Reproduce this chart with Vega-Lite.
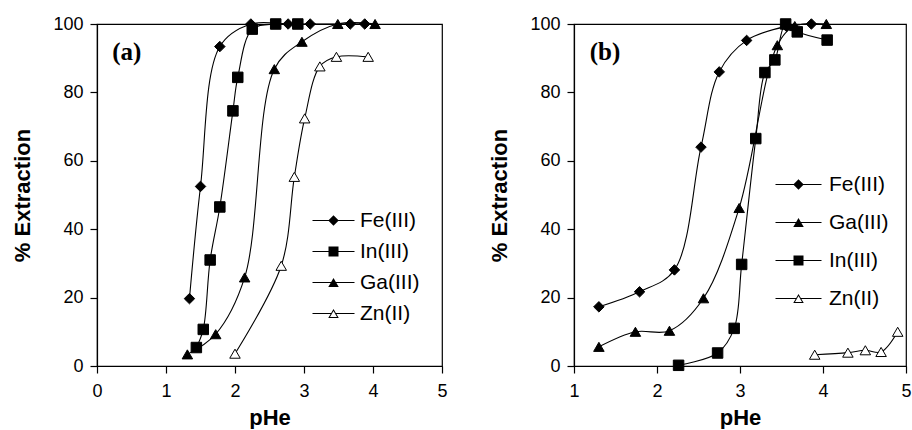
{
  "$schema": "https://vega.github.io/schema/vega-lite/v6.json",
  "usermeta": {"embedOptions": {"actions": false}},
  "padding": {"left": 11, "top": 14, "right": 0, "bottom": 0},
  "datasets": {
    "a": [
      {"series": "Fe(III)", "pHe": 1.34, "ext": 19.7},
      {"series": "Fe(III)", "pHe": 1.50, "ext": 52.5},
      {"series": "Fe(III)", "pHe": 1.78, "ext": 93.4},
      {"series": "Fe(III)", "pHe": 2.23, "ext": 100},
      {"series": "Fe(III)", "pHe": 2.77, "ext": 100},
      {"series": "Fe(III)", "pHe": 3.09, "ext": 100},
      {"series": "Fe(III)", "pHe": 3.67, "ext": 100},
      {"series": "Fe(III)", "pHe": 3.88, "ext": 100},
      {"series": "In(III)", "pHe": 1.44, "ext": 5.4},
      {"series": "In(III)", "pHe": 1.54, "ext": 10.7},
      {"series": "In(III)", "pHe": 1.64, "ext": 31},
      {"series": "In(III)", "pHe": 1.78, "ext": 46.5},
      {"series": "In(III)", "pHe": 1.97, "ext": 74.6},
      {"series": "In(III)", "pHe": 2.04, "ext": 84.4},
      {"series": "In(III)", "pHe": 2.25, "ext": 98.5},
      {"series": "In(III)", "pHe": 2.59, "ext": 100},
      {"series": "In(III)", "pHe": 2.91, "ext": 100},
      {"series": "Ga(III)", "pHe": 1.31, "ext": 3.4},
      {"series": "Ga(III)", "pHe": 1.72, "ext": 9.3},
      {"series": "Ga(III)", "pHe": 2.14, "ext": 25.9},
      {"series": "Ga(III)", "pHe": 2.57, "ext": 86.8},
      {"series": "Ga(III)", "pHe": 2.97, "ext": 94.8},
      {"series": "Ga(III)", "pHe": 3.49, "ext": 100},
      {"series": "Ga(III)", "pHe": 4.03, "ext": 100},
      {"series": "Zn(II)", "pHe": 2.00, "ext": 3.6},
      {"series": "Zn(II)", "pHe": 2.67, "ext": 29.3},
      {"series": "Zn(II)", "pHe": 2.86, "ext": 55.3},
      {"series": "Zn(II)", "pHe": 3.01, "ext": 72.4},
      {"series": "Zn(II)", "pHe": 3.23, "ext": 87.6},
      {"series": "Zn(II)", "pHe": 3.47, "ext": 90.4},
      {"series": "Zn(II)", "pHe": 3.93, "ext": 90.4}
    ],
    "b": [
      {"series": "Fe(III)", "pHe": 1.30, "ext": 17.3},
      {"series": "Fe(III)", "pHe": 1.79, "ext": 21.7},
      {"series": "Fe(III)", "pHe": 2.21, "ext": 28.1},
      {"series": "Fe(III)", "pHe": 2.53, "ext": 64.0},
      {"series": "Fe(III)", "pHe": 2.75, "ext": 86.0},
      {"series": "Fe(III)", "pHe": 3.08, "ext": 95.2},
      {"series": "Fe(III)", "pHe": 3.56, "ext": 99.3},
      {"series": "Fe(III)", "pHe": 3.86, "ext": 100},
      {"series": "Ga(III)", "pHe": 1.30, "ext": 5.6},
      {"series": "Ga(III)", "pHe": 1.74, "ext": 10},
      {"series": "Ga(III)", "pHe": 2.15, "ext": 10.3},
      {"series": "Ga(III)", "pHe": 2.56, "ext": 19.8},
      {"series": "Ga(III)", "pHe": 2.99, "ext": 46.2},
      {"series": "Ga(III)", "pHe": 3.45, "ext": 93.8},
      {"series": "Ga(III)", "pHe": 3.66, "ext": 99.4},
      {"series": "Ga(III)", "pHe": 4.04, "ext": 100},
      {"series": "In(III)", "pHe": 2.26, "ext": 0.2},
      {"series": "In(III)", "pHe": 2.73, "ext": 3.8},
      {"series": "In(III)", "pHe": 2.93, "ext": 11},
      {"series": "In(III)", "pHe": 3.02, "ext": 29.7},
      {"series": "In(III)", "pHe": 3.19, "ext": 66.5},
      {"series": "In(III)", "pHe": 3.30, "ext": 85.8},
      {"series": "In(III)", "pHe": 3.42, "ext": 89.5},
      {"series": "In(III)", "pHe": 3.55, "ext": 100},
      {"series": "In(III)", "pHe": 3.69, "ext": 97.7},
      {"series": "In(III)", "pHe": 4.05, "ext": 95.3},
      {"series": "Zn(II)", "pHe": 3.90, "ext": 3.3},
      {"series": "Zn(II)", "pHe": 4.30, "ext": 3.9},
      {"series": "Zn(II)", "pHe": 4.51, "ext": 4.6},
      {"series": "Zn(II)", "pHe": 4.70, "ext": 4.1},
      {"series": "Zn(II)", "pHe": 4.90, "ext": 10}
    ]
  },
  "spacing": 40,
  "hconcat": [
    {
      "width": 345,
      "height": 342,
      "data": {"name": "a"},
      "encoding": {
        "x": {"field": "pHe", "type": "quantitative", "title": "pHe",
              "scale": {"domain": [0, 5], "nice": false},
              "axis": {"values": [0, 1, 2, 3, 4, 5], "format": "d"}},
        "y": {"field": "ext", "type": "quantitative", "title": "% Extraction",
              "scale": {"domain": [0, 100], "nice": false},
              "axis": {"values": [0, 20, 40, 60, 80, 100]}}
      },
      "layer": [
        {
          "mark": {"type": "line", "color": "black", "strokeWidth": 1.1, "interpolate": "catmull-rom"},
          "encoding": {"detail": {"field": "series"}}
        },
        {
          "mark": {"type": "point", "filled": true, "size": 110, "stroke": "black", "strokeWidth": 1, "opacity": 1},
          "encoding": {
            "shape": {
              "condition": [
                {"test": "datum.series === 'Fe(III)'", "value": "diamond"},
                {"test": "datum.series === 'In(III)'", "value": "square"}
              ],
              "value": "triangle-up"
            },
            "fill": {
              "condition": {"test": "datum.series === 'Zn(II)'", "value": "white"},
              "value": "black"
            }
          }
        },
        {
          "transform": [{"filter": "false"}],
          "mark": {"type": "point", "filled": true, "color": "black", "opacity": 1},
          "encoding": {
            "shape": {"field": "series", "title": null,
                      "scale": {"domain": ["Fe(III)", "In(III)", "Ga(III)", "Zn(II)"],
                                "range": [
                                  "M-4.2,-0.11H4.2V0.11H-4.2ZM-1.05,0L0,-1.05L1.05,0L0,1.05Z",
                                  "M-4.2,-0.11H4.2V0.11H-4.2ZM-1,-1H1V1H-1Z",
                                  "M-4.2,-0.11H4.2V0.11H-4.2ZM0,-0.91L1.05,0.91L-1.05,0.91Z",
                                  "M-4.2,-0.11H-0.5V0.11H-4.2ZM0.5,-0.11H4.2V0.11H0.5ZM0,-0.91L1.05,0.91L-1.05,0.91ZM0,-0.51L-0.7,0.71L0.7,0.71Z"
                                ]},
                      "legend": {
                        "orient": "none", "legendX": 226, "legendY": 186,
                        "labelOffset": 16, "rowPadding": 9
                      }}
          }
        },
        {
          "data": {"values": [{"panel": "(a)", "px": 0.22, "py": 91.8}]},
          "mark": {"type": "text", "font": "Liberation Serif", "fontWeight": "bold", "fontSize": 25, "align": "left", "baseline": "middle", "color": "black"},
          "encoding": {
            "x": {"field": "px", "type": "quantitative"},
            "y": {"field": "py", "type": "quantitative"},
            "text": {"field": "panel"}
          }
        }
      ]
    },
    {
      "width": 332,
      "height": 342,
      "data": {"name": "b"},
      "encoding": {
        "x": {"field": "pHe", "type": "quantitative", "title": "pHe",
              "scale": {"domain": [1, 5], "nice": false},
              "axis": {"values": [1, 2, 3, 4, 5], "format": "d"}},
        "y": {"field": "ext", "type": "quantitative", "title": "% Extraction",
              "scale": {"domain": [0, 100], "nice": false},
              "axis": {"values": [0, 20, 40, 60, 80, 100]}}
      },
      "layer": [
        {
          "mark": {"type": "line", "color": "black", "strokeWidth": 1.1, "interpolate": "catmull-rom"},
          "encoding": {"detail": {"field": "series"}}
        },
        {
          "mark": {"type": "point", "filled": true, "size": 110, "stroke": "black", "strokeWidth": 1, "opacity": 1},
          "encoding": {
            "shape": {
              "condition": [
                {"test": "datum.series === 'Fe(III)'", "value": "diamond"},
                {"test": "datum.series === 'In(III)'", "value": "square"}
              ],
              "value": "triangle-up"
            },
            "fill": {
              "condition": {"test": "datum.series === 'Zn(II)'", "value": "white"},
              "value": "black"
            }
          }
        },
        {
          "transform": [{"filter": "false"}],
          "mark": {"type": "point", "filled": true, "color": "black", "opacity": 1},
          "encoding": {
            "shape": {"field": "series", "title": null,
                      "scale": {"domain": ["Fe(III)", "Ga(III)", "In(III)", "Zn(II)"],
                                "range": [
                                  "M-4.6,-0.11H4.6V0.11H-4.6ZM-1.05,0L0,-1.05L1.05,0L0,1.05Z",
                                  "M-4.6,-0.11H4.6V0.11H-4.6ZM0,-0.91L1.05,0.91L-1.05,0.91Z",
                                  "M-4.6,-0.11H4.6V0.11H-4.6ZM-1,-1H1V1H-1Z",
                                  "M-4.6,-0.11H-0.5V0.11H-4.6ZM0.5,-0.11H4.6V0.11H0.5ZM0,-0.91L1.05,0.91L-1.05,0.91ZM0,-0.51L-0.7,0.71L0.7,0.71Z"
                                ]},
                      "legend": {
                        "orient": "none", "legendX": 214, "legendY": 150,
                        "labelOffset": 20, "rowPadding": 16
                      }}
          }
        },
        {
          "data": {"values": [{"panel": "(b)", "px": 1.19, "py": 91.8}]},
          "mark": {"type": "text", "font": "Liberation Serif", "fontWeight": "bold", "fontSize": 25, "align": "left", "baseline": "middle", "color": "black"},
          "encoding": {
            "x": {"field": "px", "type": "quantitative"},
            "y": {"field": "py", "type": "quantitative"},
            "text": {"field": "panel"}
          }
        }
      ]
    }
  ],
  "resolve": {"scale": {"shape": "independent", "x": "independent", "y": "independent"}, "legend": {"shape": "independent"}},
  "config": {
    "background": "white",
    "view": {"stroke": "black", "strokeWidth": 1.2},
    "axis": {
      "grid": false,
      "domainColor": "black",
      "domainWidth": 1.2,
      "tickColor": "black",
      "tickSize": 7,
      "tickWidth": 1.2,
      "labelFont": "Liberation Sans",
      "labelFontSize": 18,
      "labelColor": "black",
      "labelFlush": false,
      "titleFont": "Liberation Sans",
      "titleFontSize": 22,
      "titleFontWeight": "bold",
      "titleColor": "black"
    },
    "axisX": {"labelPadding": 9, "titlePadding": 7},
    "axisY": {"labelPadding": 7, "titlePadding": 18},
    "legend": {
      "labelFont": "Liberation Sans",
      "labelFontSize": 21,
      "labelColor": "black",
      "symbolSize": 100,
      "padding": 0
    }
  }
}
